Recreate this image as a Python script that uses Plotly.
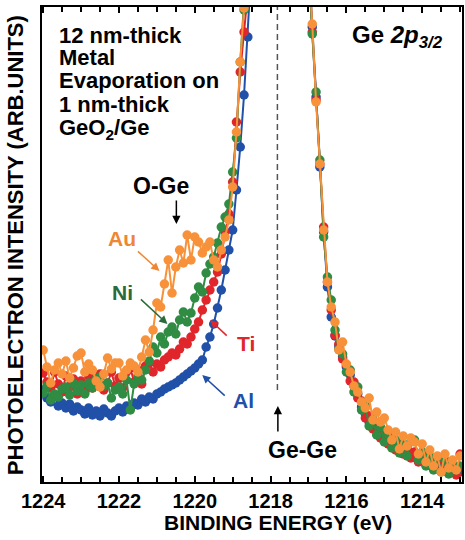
import plotly.graph_objects as go

# Binding-energy scan grid (eV), 0.1 eV steps from 1224.0 down to 1213.0
energy = [round(1224.0 - 0.1 * i, 1) for i in range(111)]

# Ge 2p3/2 photoelectron intensity (arb. units) after 12 nm metal evaporation
al = [
    92, 84, 80, 86, 76, 79, 74, 78, 71, 75,
    72, 68, 74, 67, 71, 66, 73, 69, 66, 71,
    74, 70, 76, 74, 79, 77, 83, 80, 85, 83,
    88, 90, 93, 95, 97, 99, 102, 105, 108, 111,
    114, 118, 122, 135, 145, 158, 174, 192, 212, 232,
    252, 292, 335, 387, 445, 520, 640, 800, 980, 1150,
    1300, 1380, 1350, 1240, 1080, 920, 780, 680, 610, 560,
    530, 455, 385, 315, 250, 195, 165, 146, 136, 125,
    115, 107, 96, 88, 75, 68, 60, 57, 51, 49,
    44, 43, 38, 37, 33, 33, 29, 29, 25, 26,
    22, 23, 20, 20, 17, 17, 13, 14, 11, 11,
    10,
]
ti = [
    109, 100, 94, 110, 98, 90, 106, 95, 103, 88,
    101, 90, 106, 94, 100, 108, 92, 99, 110, 96,
    104, 94, 110, 114, 100, 112, 98, 116, 119, 110,
    118, 115, 122, 125, 129, 127, 133, 140, 138, 145,
    153, 160, 172, 182, 192, 200, 210, 228, 250, 268,
    300, 360, 410, 450, 490, 600, 750, 920, 1080, 1230,
    1350, 1420, 1390, 1280, 1110, 940, 790, 690, 620, 570,
    525, 450, 382, 318, 255, 200, 172, 147, 138, 123,
    117, 101, 100, 84, 81, 64, 66, 53, 55, 44,
    48, 38, 42, 32, 38, 28, 34, 24, 30, 20,
    28, 17, 25, 14, 22, 11, 20, 9, 16, 7,
    28,
]
ni = [
    89, 96, 82, 88, 85, 93, 95, 87, 99, 91,
    97, 88, 99, 94, 103, 105, 96, 99, 84, 92,
    95, 88, 102, 72, 98, 106, 102, 112, 121, 135,
    129, 145, 138, 150, 155, 148, 162, 170, 160, 169,
    184, 195, 190, 209, 218, 225, 239, 255, 265, 278,
    310, 344, 420, 472, 540, 650, 800, 960, 1110, 1260,
    1380, 1440, 1400, 1290, 1120, 950, 800, 700, 630, 575,
    520, 448, 390, 322, 245, 205, 182, 152, 133, 128,
    110, 112, 90, 95, 72, 76, 56, 63, 47, 55,
    40, 48, 34, 42, 29, 38, 26, 40, 42, 22,
    30, 16, 26, 12, 24, 10, 22, 8, 18, 12,
    16,
]
au = [
    132, 115, 99, 112, 119, 108, 121, 104, 114, 126,
    129, 110, 118, 112, 101, 95, 108, 124, 113, 119,
    119, 106, 112, 119, 116, 110, 125, 142, 130, 152,
    179, 175, 198, 222, 189, 215, 232, 219, 247, 222,
    245, 240, 229, 235, 240, 222, 215, 232, 245, 262,
    295, 350, 420, 474, 545, 660, 820, 980, 1130, 1280,
    1400, 1460, 1420, 1300, 1130, 960, 810, 710, 640, 580,
    515, 458, 380, 318, 252, 200, 175, 160, 132, 140,
    118, 110, 96, 90, 80, 74, 84, 62, 70, 60,
    64, 52, 42, 50, 33, 46, 36, 44, 40, 28,
    38, 20, 32, 16, 26, 10, 28, 14, 22, 12,
    26,
]

series = [
    ("Al", al, "#2150A8"),
    ("Ti", ti, "#E0262B"),
    ("Ni", ni, "#2F8C42"),
    ("Au", au, "#F7913A"),
]

GE_GE_ENERGY = 1217.82
X_RANGE = [1224.03, 1212.95]
Y_RANGE = [0, 475]

FONT = "Liberation Sans, Arial, sans-serif"

fig = go.Figure()
for name, values, color in series:
    fig.add_trace(go.Scatter(
        x=energy, y=values, name=name, mode="lines+markers",
        line=dict(color=color, width=2),
        marker=dict(color=color, size=9.5, line=dict(width=0)),
        showlegend=False,
    ))

# Ge-Ge reference position
fig.add_shape(type="line", xref="x", yref="y",
              x0=GE_GE_ENERGY, x1=GE_GE_ENERGY, y0=92, y1=Y_RANGE[1],
              line=dict(color="#555555", width=1.5, dash="6px,4px"))

L, R, T, B = 42, 1, 7, 58
W, H = 465, 540
PW, PH = W - L - R, H - T - B


def px(xp):
    return (xp - L) / PW


def py(yp):
    return (H - B - yp) / PH


def label(text, x, y, color="black", size=21, xanchor="center", yanchor="middle", align="center"):
    fig.add_annotation(text=text, xref="paper", yref="paper", x=px(x), y=py(y),
                       xanchor=xanchor, yanchor=yanchor, align=align, showarrow=False,
                       font=dict(family=FONT, size=size, color=color, weight="bold"))


def arrow(tail, head, color):
    fig.add_annotation(text="", xref="paper", yref="paper", x=px(head[0]), y=py(head[1]),
                       ax=tail[0] - head[0], ay=tail[1] - head[1], showarrow=True,
                       arrowhead=2, arrowsize=1.1, arrowwidth=1.5, arrowcolor=color)


# Sample description, one line per annotation
for line_text, yc in [("12 nm-thick", 35), ("Metal", 58), ("Evaporation on", 81),
                      ("1 nm-thick", 104), ("GeO<sub>2</sub>/Ge", 129)]:
    label(line_text, 57, yc, size=22, xanchor="left")

label("Ge <i>2p</i><sub><i>3/2</i></sub>", 351, 36, size=24, xanchor="left")

label("O-Ge", 162, 186, size=23)
arrow((177, 199), (177, 224), "black")

label("Au", 122, 238, color="#EE8634")
arrow((137, 250), (160, 271), "#EE8634")

label("Ni", 123, 292, color="#2B6B3B")
arrow((140, 298), (168, 324), "#2B6B3B")

label("Ti", 247, 343, color="#E0262B")
arrow((229, 337), (211, 320), "#E0262B")

label("Al", 244, 400, color="#2150A8")
arrow((227, 397), (203, 375), "#2150A8")

label("Ge-Ge", 304, 450, size=23)
arrow((279, 433), (279, 406), "black")

# Axis titles
label("BINDING ENERGY (eV)", 279, 522)
fig.add_annotation(text="PHOTOELECTRON INTENSITY (ARB.UNITS)", xref="paper", yref="paper",
                   x=px(15), y=py(245), textangle=-90, showarrow=False,
                   xanchor="center", yanchor="middle",
                   font=dict(family=FONT, size=22, color="black", weight="bold"))

fig.update_xaxes(
    range=X_RANGE, tick0=1214, dtick=2, ticks="inside", ticklen=6, tickwidth=1.5,
    tickcolor="black", showline=True, linewidth=2, linecolor="black", mirror="ticks",
    showgrid=False, zeroline=False,
    tickfont=dict(family=FONT, size=20, color="black", weight="bold"),
    minor=dict(dtick=0.5, ticks="inside", ticklen=5, tickwidth=1.5, tickcolor="black", showgrid=False),
)
fig.update_yaxes(
    range=Y_RANGE, showticklabels=False, ticks="", showline=True, linewidth=2,
    linecolor="black", mirror=True, showgrid=False, zeroline=False,
)
fig.update_layout(
    width=W, height=H, margin=dict(l=L, r=R, t=T, b=B),
    paper_bgcolor="white", plot_bgcolor="white",
    font=dict(family=FONT, color="black"),
)

fig.write_html("out.html")
